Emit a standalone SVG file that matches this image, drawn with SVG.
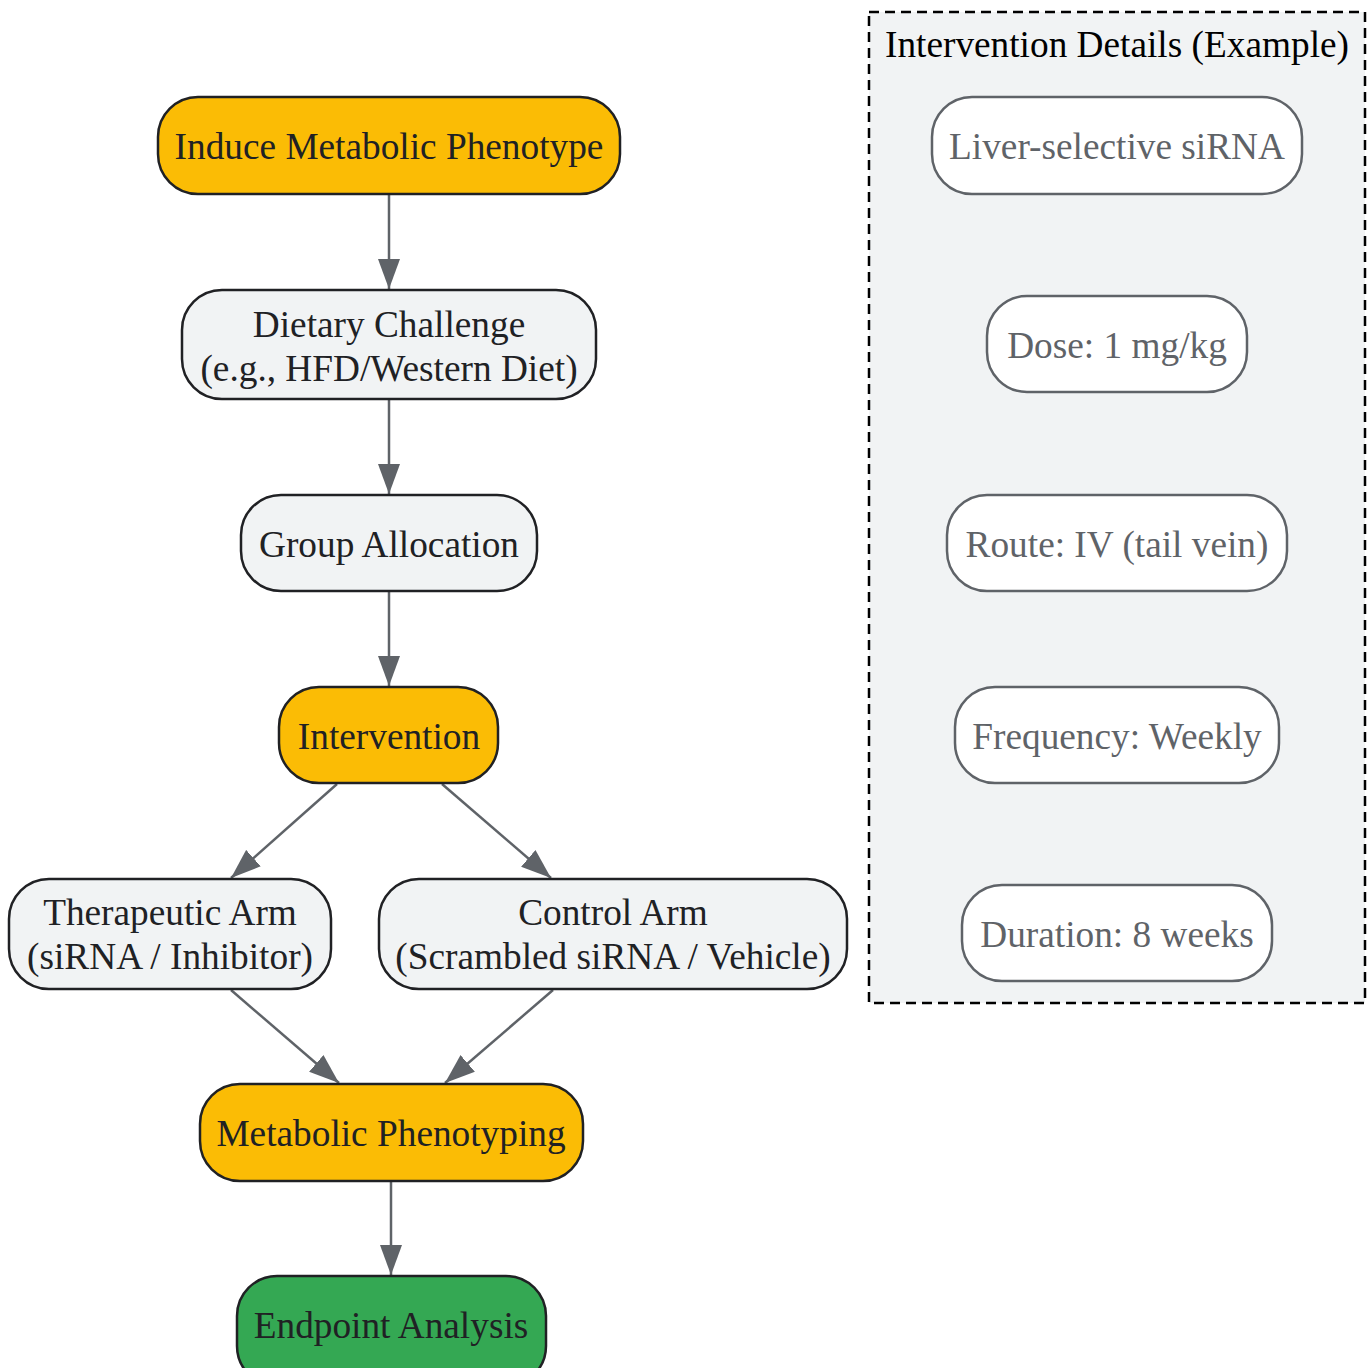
<svg xmlns="http://www.w3.org/2000/svg" width="1369" height="1368" viewBox="0 0 1369 1368">
<defs>
<marker id="arr" markerUnits="userSpaceOnUse" markerWidth="30" markerHeight="22" viewBox="0 0 30 22" refX="30" refY="11" orient="auto">
<path d="M0,0 L30,11 L0,22 z" fill="#5F6368"/>
</marker>
<style>
text{font-family:"Liberation Serif","Times New Roman",serif;font-size:37.3px;text-anchor:middle}
.main rect{stroke:#202124;stroke-width:2.5}
.main text{fill:#202124}
.yel rect{fill:#FBBC05}
.gry rect{fill:#F1F3F4}
.grn rect{fill:#34A853}
.det rect{fill:#FFFFFF;stroke:#5F6368;stroke-width:2.5}
.det text{fill:#5F6368}
#edges line{stroke:#5F6368;stroke-width:2.5;marker-end:url(#arr)}
</style>
</defs>
<rect width="1369" height="1368" fill="#FFFFFF"/>
<g id="cluster">
<rect x="869" y="12" width="496" height="991" fill="#F1F3F4" stroke="#000000" stroke-width="2.5" stroke-dasharray="10,6"/>
<text x="1117" y="57" fill="#000000">Intervention Details (Example)</text>
</g>
<g id="edges">
<line x1="389" y1="195" x2="389" y2="289"/>
<line x1="389" y1="400" x2="389" y2="494"/>
<line x1="389" y1="592" x2="389" y2="686"/>
<line x1="337" y1="784" x2="231" y2="878"/>
<line x1="442" y1="784" x2="551" y2="878"/>
<line x1="231" y1="990" x2="339" y2="1083"/>
<line x1="553" y1="990" x2="445" y2="1083"/>
<line x1="391" y1="1182" x2="391" y2="1275"/>
</g>
<g id="induce" class="main yel"><rect x="158" y="97" width="462" height="97" rx="40"/><text x="389" y="159">Induce Metabolic Phenotype</text></g>
<g id="dietary" class="main gry"><rect x="182" y="290" width="414" height="109" rx="40"/><text x="389" y="337">Dietary Challenge</text><text x="389" y="381">(e.g., HFD/Western Diet)</text></g>
<g id="group" class="main gry"><rect x="241" y="495" width="296" height="96" rx="40"/><text x="389" y="557">Group Allocation</text></g>
<g id="intervention" class="main yel"><rect x="279" y="687" width="219" height="96" rx="40"/><text x="389" y="749">Intervention</text></g>
<g id="therapeutic" class="main gry"><rect x="9" y="879" width="322" height="110" rx="40"/><text x="170" y="925">Therapeutic Arm</text><text x="170" y="969">(siRNA / Inhibitor)</text></g>
<g id="control" class="main gry"><rect x="379" y="879" width="468" height="110" rx="40"/><text x="613" y="925">Control Arm</text><text x="613" y="969">(Scrambled siRNA / Vehicle)</text></g>
<g id="phenotyping" class="main yel"><rect x="200" y="1084" width="383" height="97" rx="40"/><text x="391" y="1146">Metabolic Phenotyping</text></g>
<g id="endpoint" class="main grn"><rect x="237" y="1276" width="309" height="110" rx="40"/><text x="391" y="1338">Endpoint Analysis</text></g>
<g id="liver" class="det"><rect x="932" y="97" width="370" height="97" rx="40"/><text x="1117" y="159">Liver-selective siRNA</text></g>
<g id="dose" class="det"><rect x="987" y="296" width="260" height="96" rx="40"/><text x="1117" y="358">Dose: 1 mg/kg</text></g>
<g id="route" class="det"><rect x="947" y="495" width="340" height="96" rx="40"/><text x="1117" y="557">Route: IV (tail vein)</text></g>
<g id="frequency" class="det"><rect x="955" y="687" width="324" height="96" rx="40"/><text x="1117" y="749">Frequency: Weekly</text></g>
<g id="duration" class="det"><rect x="962" y="885" width="310" height="96" rx="40"/><text x="1117" y="947">Duration: 8 weeks</text></g>
</svg>
